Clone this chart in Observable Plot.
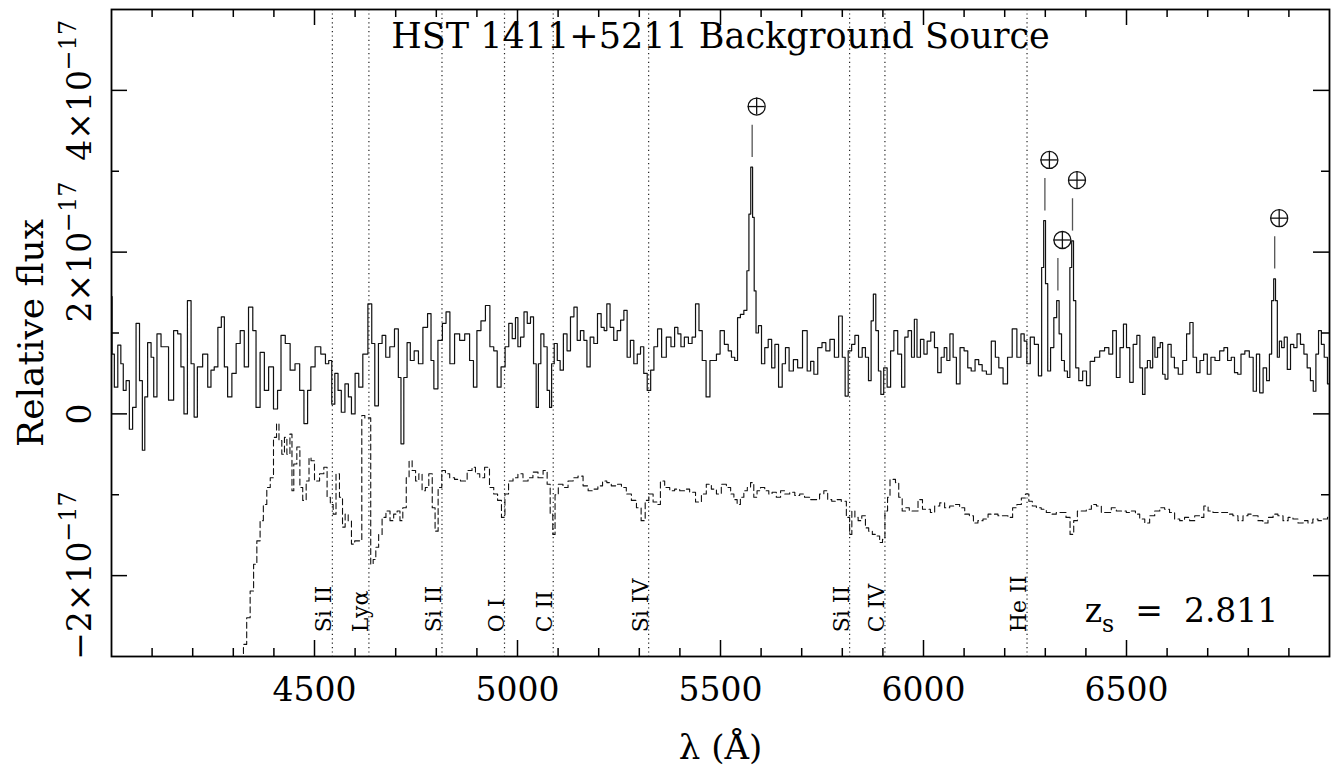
<!DOCTYPE html>
<html><head><meta charset="utf-8">
<script src="https://cdn.jsdelivr.net/npm/d3@7"></script>
<script src="https://cdn.jsdelivr.net/npm/@observablehq/plot@0.6"></script>
<style>
html,body{margin:0;padding:0;background:#fff;}
#chart svg{display:block;}
</style></head><body><div id="chart"></div>
<script>
// ---- DATA (flux in units of 1e-17) ----
const specWave = [4000,4003,4011,4020,4026,4032,4040,4048,4056,4065,4073,4079,4085,4093,4102,4106,4118,4126,4134,4147,4159,4167,4175,4182,4192,4200,4207,4216,4233,4241,4249,4257,4267,4274,4282,4290,4303,4311,4323,4331,4344,4352,4360,4372,4381,4393,4405,4413,4422,4434,4446,4458,4469,4479,4487,4495,4508,
4523,4531,4539,4546,4554,4562,4570,4580,4587,4595,4605,4613,4625,4638,4644,4653,4662,4671,4680,4691,4703,4710,4716,4724,4732,4740,4751,4761,4773,4784,4790,4798,4810,4820,4828,4839,4851,4864,4876,4888,4895,4905,4915,4927,4937,4946,4954,4965,4974,4983,4991,4999,
5003,5012,5020,5028,5036,5043,5049,5054,5061,5069,5077,5081,5087,5094,5102,5108,5118,5126,5135,5143,5151,5159,5168,5174,5184,5192,5202,5210,5217,5223,5233,5241,5250,5258,5266,5274,5282,5291,5299,5307,5315,5324,5332,5340,5350,5360,5373,5383,5391,5399,5406,5416,5426,5434,5443,5451,5459,5470,5478,5486,5494,5504,
5515,5523,5531,5539,5545,5553,5562,5568,5572,5577,5581,5585,5590,5597,5605,5613,5622,5630,5638,5648,5656,5664,5674,5685,5695,5709,5718,5726,5734,5745,5755,5764,5775,5786,5796,5804,5810,5819,5827,5835,5845,5853,5861,5868,5874,5879,5886,5892,5898,5906,5915,5923,5931,5942,5950,5958,5966,5975,5980,5988,5997,6005,6013,
6023,6031,6039,6048,6054,6061,6069,6077,6085,6095,6105,6113,6122,6132,6140,6149,6161,6173,6181,6190,6202,6212,6225,6235,6245,6251,6258,6268,6278,6288,6294,6298,6303,6309,6317,6325,6331,6337,6343,6351,6358,6363,6367,6372,6378,6387,6397,6406,6415,6428,6440,6452,6461,6471,6479,6489,6496,6504,6512,6521,
6530,6536,6543,6548,6555,6562,6567,6573,6580,6586,6592,6598,6606,6614,6622,6633,6644,6652,6660,6668,6677,6685,6695,6703,6713,6723,6736,6744,6754,6762,6770,6778,6786,6797,6808,6816,6824,6832,6841,6849,6855,6860,6865,6869,6874,6879,6885,6892,6900,6908,6916,6924,6933,6941,6949,6957,6963,6970,6976,6984,6990,7000];
const specFlux = [1.45,0.74,0.33,0.85,0.62,0.29,0.41,-0.19,0.08,1.12,0.41,-0.45,0.21,0.88,0.70,0.21,0.99,0.83,0.83,0.17,1.03,0.99,0.58,0.00,1.40,0.62,-0.04,0.58,0.74,0.33,0.54,0.58,1.07,1.20,0.58,0.21,0.50,0.87,1.03,0.58,1.32,1.03,0.08,0.76,0.29,0.58,0.06,0.29,0.97,0.87,0.54,0.62,0.29,-0.12,0.29,0.58,0.83,
0.74,0.62,0.66,0.12,0.50,0.29,0.02,0.37,0.21,0.00,0.50,0.33,0.74,1.36,0.87,0.10,0.87,0.97,0.70,0.83,1.05,0.45,-0.37,0.45,0.88,0.66,0.78,0.62,1.07,1.24,0.66,0.31,0.91,1.12,1.26,0.62,0.99,0.91,0.99,0.66,0.33,1.03,1.15,1.34,0.83,0.78,0.33,0.58,0.83,1.12,0.93,1.19,
0.83,0.95,1.26,1.12,1.20,0.62,0.08,0.62,0.99,0.83,0.29,0.08,0.62,0.87,0.66,0.54,0.99,0.78,1.20,1.32,0.91,1.03,0.91,0.58,0.95,0.87,1.24,1.07,1.03,1.36,1.07,0.91,1.03,1.16,1.28,0.70,0.91,0.62,0.74,0.83,0.50,0.29,0.54,0.83,1.05,0.70,0.95,0.83,1.07,0.99,0.83,0.95,0.87,0.95,1.36,1.03,0.66,0.21,0.66,0.66,0.74,1.03,
0.86,0.78,0.70,0.66,1.19,1.23,1.28,1.77,2.47,3.05,2.43,1.52,1.00,1.09,0.62,0.82,0.92,0.57,0.86,0.33,0.62,0.82,0.53,0.67,0.57,1.03,0.53,0.65,0.49,0.82,0.88,0.78,0.92,0.70,1.21,0.70,0.22,0.78,0.86,0.97,0.70,0.82,0.70,0.41,1.15,1.48,1.03,0.53,0.24,0.57,0.33,0.78,1.03,0.74,0.33,0.95,1.03,0.70,1.17,0.70,0.92,0.74,0.90,
1.01,0.82,0.51,0.70,0.82,0.66,0.99,0.70,0.37,0.82,0.78,0.57,0.53,0.67,0.61,0.53,0.49,0.90,0.70,0.57,0.37,0.70,1.05,0.70,0.99,0.90,0.62,0.95,0.86,0.47,1.81,2.39,1.61,0.53,0.82,1.19,1.40,0.99,0.66,0.53,0.45,1.81,2.14,1.40,0.57,0.41,0.53,0.35,0.65,0.70,0.78,0.82,0.74,1.03,0.45,0.82,1.11,0.82,0.39,0.86,
0.97,0.57,0.24,0.57,0.66,0.57,0.95,0.70,0.82,0.88,0.49,0.43,0.86,0.70,0.57,0.49,0.66,0.99,1.13,0.70,0.51,0.66,0.74,0.49,0.70,0.66,0.78,0.82,0.66,0.70,0.51,0.49,0.74,0.78,0.70,0.28,0.74,0.26,0.57,0.41,0.74,1.40,1.67,1.40,0.70,0.90,0.82,0.95,0.55,0.86,0.82,0.99,0.86,0.74,0.57,0.41,0.28,0.74,1.03,0.86,0.70,0.37];

const tmplWave = [4321,4329,4337,4346,4354,4362,4370,4378,4387,4395,4403,4410,4415,4424,4428,4436,4443,4446,4452,4461,4467,4475,4484,4489,4494,4506,4519,4527,4535,4543,4549,4557,4566,4572,4579,4587,4595,4603,4613,4620,4628,4636,4641,4648,4654,4662,4671,4681,4691,4699,4708,4713,4722,4730,4736,4745,4753,4761,4769,4777,4786,4794,4800,4809,4818,4827,4839,4851,4868,4884,4892,4901,4913,4925,4937,4946,4956,4965,4973,4983,4995,
5007,5020,5032,5044,5057,5069,5077,5084,5090,5095,5106,5118,5131,5143,5155,5168,5180,5192,5204,5215,5225,5237,5250,5262,5274,5287,5299,5310,5319,5328,5340,5348,5356,5369,5381,5393,5406,5418,5430,5447,5459,5471,5484,5496,5508,
5521,5529,5537,5545,5553,5562,5570,5578,5586,5594,5603,5615,5623,5631,5644,5652,5664,5677,5689,5701,5713,5726,5738,5750,5759,5769,5779,5791,5804,5816,5820,5827,5835,5843,5853,5861,5869,5879,5888,5896,5902,5908,5915,5920,5927,5935,5943,5952,5960,5970,5980,5993,6002,6013,
6021,6034,6046,6058,6071,6083,6095,6108,6118,6128,6140,6153,6165,6177,6190,6202,6214,6225,6235,6247,6255,6264,6272,6284,6296,6309,6321,6333,6346,6356,6366,6374,6384,6395,6407,6420,6432,6444,6456,6469,6481,6493,6506,6518,
6526,6539,6551,6563,6576,6588,6600,6612,6625,6637,6649,6662,6674,6686,6695,6707,6719,6732,6744,6756,6768,6781,6793,6805,6818,6830,6842,6855,6867,6879,6892,6904,6916,6929,6941,6953,6965,6978,6990,7000];
const tmplFlux = [-3.06,-2.85,-2.52,-2.19,-1.86,-1.57,-1.32,-1.12,-0.91,-0.79,-0.29,-0.12,-0.33,-0.50,-0.29,-0.50,-0.25,-0.95,-0.62,-0.41,-0.91,-1.07,-0.83,-0.54,-0.58,-0.83,-0.74,-0.66,-1.03,-1.12,-1.24,-0.74,-1.03,-1.40,-1.24,-1.32,-1.61,-1.57,-1.57,-0.02,-0.05,-0.05,-1.86,-1.80,-1.65,-1.49,-1.28,-1.20,-1.32,-1.24,-1.20,-1.32,-1.16,-0.79,-0.58,-0.70,-0.83,-0.74,-0.95,-0.91,-0.74,-1.16,-1.45,-0.91,-0.70,-0.74,-0.79,-0.81,-0.83,-0.70,-0.66,-0.74,-0.79,-0.66,-0.91,-0.99,-1.07,-1.28,-0.99,-0.83,-0.79,
-0.74,-0.83,-0.79,-0.72,-0.79,-0.70,-0.87,-1.24,-1.49,-1.00,-0.87,-0.91,-0.83,-0.79,-0.77,-0.89,-0.95,-0.93,-0.89,-0.83,-0.85,-0.89,-0.87,-0.91,-0.99,-1.07,-1.16,-1.32,-1.07,-0.99,-1.09,-1.12,-0.83,-0.91,-0.95,-0.93,-0.95,-0.93,-0.97,-1.09,-0.99,-0.87,-0.93,-0.99,-0.87,
-0.91,-0.99,-1.06,-1.12,-1.03,-0.95,-0.91,-0.85,-1.03,-0.95,-0.91,-0.95,-0.99,-0.97,-1.03,-0.95,-0.99,-0.97,-1.01,-0.99,-1.03,-1.06,-1.06,-0.99,-0.95,-1.06,-1.08,-1.06,-1.08,-1.28,-1.49,-1.20,-1.28,-1.32,-1.26,-1.41,-1.45,-1.49,-1.51,-1.59,-1.55,-1.20,-1.03,-0.81,-0.81,-0.85,-1.03,-1.20,-1.16,-1.20,-1.20,-1.06,-1.18,-1.18,
-1.22,-1.14,-1.10,-1.16,-1.14,-1.12,-1.16,-1.24,-1.26,-1.35,-1.32,-1.30,-1.24,-1.24,-1.26,-1.26,-1.28,-1.16,-1.12,-1.04,-0.99,-1.08,-1.14,-1.16,-1.18,-1.22,-1.24,-1.22,-1.22,-1.28,-1.49,-1.32,-1.20,-1.20,-1.18,-1.12,-1.14,-1.22,-1.22,-1.16,-1.20,-1.20,-1.22,-1.20,
-1.24,-1.30,-1.35,-1.26,-1.20,-1.16,-1.18,-1.22,-1.30,-1.32,-1.28,-1.32,-1.26,-1.28,-1.14,-1.20,-1.22,-1.22,-1.22,-1.24,-1.26,-1.32,-1.26,-1.24,-1.26,-1.32,-1.35,-1.28,-1.24,-1.26,-1.32,-1.28,-1.30,-1.35,-1.32,-1.35,-1.30,-1.32,-1.30,-1.28];

const featName = ["Si II", "Lyα", "Si II", "O I", "C II", "Si IV", "Si II", "C IV", "He II"];
const featWave = [4544, 4634, 4814, 4968, 5088, 5323, 5818, 5905, 6255];

const skyWave = [5578, 6299, 6331, 6367, 6865];
const skyPeak = [3.05, 2.39, 1.40, 2.14, 1.67];

const xMajor = [4500, 5000, 5500, 6000, 6500];
const xMinor = d3.range(4100, 7000, 100).filter(v => v % 500 !== 0);
const yMajor = [-2, 0, 2, 4];
const yMinor = [-1, 1, 3];
const yTickLabels = ["−2×10^−17", "0", "2×10^−17", "4×10^−17"];

const titleText = "HST 1411+5211 Background Source";
const redshiftText = "z_s\u00a0=\u00a0\u00a02.811";

// ---- LAYOUT ----
const W = 1331, H = 774, ML = 111, MR = 2, MT = 9, MB = 118;
const innerW = W - ML - MR, innerH = H - MT - MB;
const kx = innerW / 3000, ky = innerH / 8;   // px per Å, px per flux unit
const MAJ = 16, MIN = 8;
const R = 8.5, SDX = 4.5;                    // earth-symbol radius and offset (px)

const spectrum = specWave.map((w, i) => ({w, f: specFlux[i]}));
const template = tmplWave.map((w, i) => ({w, f: tmplFlux[i]}));
const sky = skyWave.map((w, i) => ({w, f: skyPeak[i]}));
const feats = featWave.map((w, i) => ({w, name: featName[i]}));

const tickStyle = {stroke: "#000", strokeWidth: 1.5};
const symY = d => d.f + 0.75;

const chart = Plot.plot({
  width: W, height: H,
  marginLeft: ML, marginRight: MR, marginTop: MT, marginBottom: MB,
  style: {fontFamily: "'DejaVu Serif', serif", background: "#fff", color: "#000", overflow: "visible"},
  x: {domain: [4000, 7000], axis: null},
  y: {domain: [-3, 5], axis: null},
  marks: [
    Plot.ruleX(feats, {x: "w", stroke: "#222", strokeWidth: 1.2, strokeDasharray: "1.2,3.2"}),
    Plot.line(template, {x: "w", y: "f", curve: "step", stroke: "#111", strokeWidth: 1.1, strokeDasharray: "6,3.5", clip: true}),
    Plot.line(spectrum, {x: "w", y: "f", curve: "step", stroke: "#111", strokeWidth: 1.2, clip: true}),
    // sky-line markers (⊕ with a short stem)
    Plot.ruleX(sky, {x: "w", y1: d => d.f + 0.12, y2: d => d.f + 0.52, stroke: "#555", strokeWidth: 1.3}),
    Plot.dot(sky, {x: "w", y: symY, r: R, dx: SDX, stroke: "#111", strokeWidth: 1.3, fill: "none"}),
    Plot.ruleX(sky, {x: "w", y1: d => symY(d) - R / ky, y2: d => symY(d) + R / ky, dx: SDX, stroke: "#111", strokeWidth: 1.3}),
    Plot.ruleY(sky, {y: symY, x1: d => d.w + (SDX - R) / kx, x2: d => d.w + (SDX + R) / kx, stroke: "#111", strokeWidth: 1.3}),
    Plot.text(feats, {x: "w", y: -2.70, text: "name", rotate: -90, textAnchor: "start", lineAnchor: "bottom", dx: -1, fontSize: 22}),
    // inward ticks on all four sides
    Plot.ruleX(xMajor, {x: d => d, insetTop: innerH - MAJ, ...tickStyle}),
    Plot.ruleX(xMajor, {x: d => d, insetBottom: innerH - MAJ, ...tickStyle}),
    Plot.ruleX(xMinor, {x: d => d, insetTop: innerH - MIN, ...tickStyle}),
    Plot.ruleX(xMinor, {x: d => d, insetBottom: innerH - MIN, ...tickStyle}),
    Plot.ruleY(yMajor, {y: d => d, insetRight: innerW - MAJ, ...tickStyle}),
    Plot.ruleY(yMajor, {y: d => d, insetLeft: innerW - MAJ, ...tickStyle}),
    Plot.ruleY(yMinor, {y: d => d, insetRight: innerW - MIN, ...tickStyle}),
    Plot.ruleY(yMinor, {y: d => d, insetLeft: innerW - MIN, ...tickStyle}),
    Plot.frame({stroke: "#000", strokeWidth: 1.8}),
    // tick labels & axis titles
    Plot.text(xMajor, {x: d => d, frameAnchor: "bottom", dy: 34, text: d => String(d), fontSize: 33, lineAnchor: "middle"}),
    Plot.text(yMajor, {y: d => d, frameAnchor: "left", dx: -21, text: (d, i) => yTickLabels[i], rotate: -90, lineAnchor: "bottom", textAnchor: "middle", fontSize: 33}),
    Plot.text(["Relative flux"], {frameAnchor: "left", dx: -69, rotate: -90, lineAnchor: "bottom", textAnchor: "middle", fontSize: 36}),
    Plot.text(["λ (Å)"], {frameAnchor: "bottom", dy: 92, lineAnchor: "middle", fontSize: 34}),
    Plot.text([titleText], {frameAnchor: "top", dy: 27, lineAnchor: "middle", fontSize: 35}),
    Plot.text([redshiftText], {x: 6397, y: -2.44, textAnchor: "start", lineAnchor: "middle", fontSize: 33})
  ]
});

// rich text: superscripts (^) and subscripts (_)
d3.select(chart).selectAll("text").each(function () {
  const t = this.textContent;
  const sel = d3.select(this);
  if (t.includes("^")) {
    const [a, b] = t.split("^");
    sel.text(null);
    sel.append("tspan").text(a);
    sel.append("tspan").attr("dy", "-0.62em").attr("font-size", "0.72em").text(b);
  } else if (t.includes("_")) {
    const i = t.indexOf("_");
    sel.text(null);
    sel.append("tspan").text(t.slice(0, i));
    sel.append("tspan").attr("dy", "0.45em").attr("font-size", "0.72em").text(t.slice(i + 1, i + 2));
    sel.append("tspan").attr("dy", "-0.324em").text("\u00a0" + t.slice(i + 2));
  }
});

document.getElementById("chart").appendChild(chart);
</script></body></html>
